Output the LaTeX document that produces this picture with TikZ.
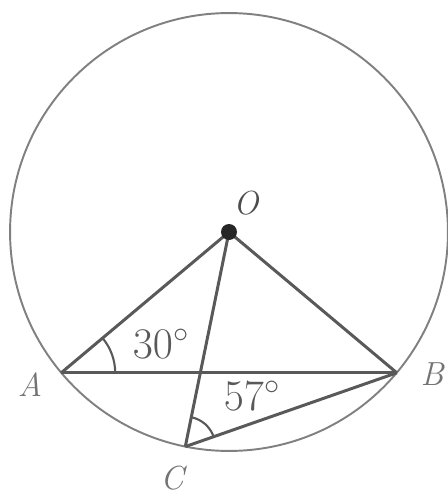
\documentclass[tikz,border=0pt]{standalone}
\usepackage{tikz}

\begin{document}
\begin{tikzpicture}[
    x=0.02cm, y=-0.02cm,
    rim/.style={draw=black!50, line width=1.1pt},
    seg/.style={draw=black!65, line width=1.7pt},
    anglearc/.style={draw=black!65, line width=1.2pt},
    pointlabel/.style={text=black!55, font=\fontsize{19}{21}\selectfont\itshape},
    anglelabel/.style={text=black!65, font=\fontsize{25}{27}\selectfont}
]
\useasboundingbox (0,0) rectangle (448,494);

% Define positions
\coordinate (O) at (229,232);
\coordinate (A) at (61.2,372.8);
\coordinate (B) at (396.8,372.8);
\coordinate (C) at (185.3,446.6);

% Circle
\draw[rim] (O) circle[radius=4.38cm];

% Radii and chords
\draw[seg] (A) -- (O);
\draw[seg] (O) -- (B);
\draw[seg] (O) -- (C);
\draw[seg] (A) -- (B);
\draw[seg] (C) -- (B);

% Angle marks
\draw[anglearc] ([shift={(0:1.08cm)}]A) arc[start angle=0, end angle=40, radius=1.08cm];
\draw[anglearc] ([shift={(19.2:0.6cm)}]C) arc[start angle=19.2, end angle=78.5, radius=0.6cm];

% Centre dot
\fill[black!85] (O) circle[radius=0.16cm];

% Labels
\node[pointlabel, text=black!70] (labO) at (246,203) {O};
\node[pointlabel] (labA) at (30,385) {A};
\node[pointlabel] (labB) at (432,374) {B};
\node[pointlabel] (labC) at (172,478) {C};
\node[anglelabel] (ang30) at (161,344) {$30^\circ$};
\node[anglelabel] (ang57) at (252,396) {$57^\circ$};

\end{tikzpicture}
\end{document}
